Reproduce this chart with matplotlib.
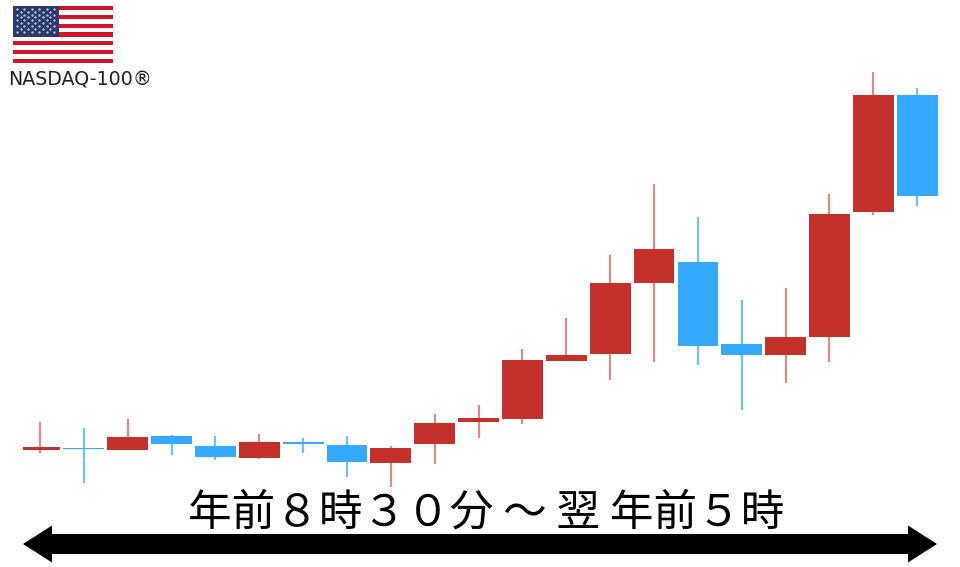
import matplotlib
matplotlib.use("Agg")
import matplotlib.pyplot as plt
from matplotlib.patches import Rectangle, Polygon

FONT = ['Noto Sans CJK JP', 'DejaVu Sans']
TITLE = "年前８時３０分 ～ 翌 年前５時"
INDEX_NAME = "NASDAQ-100®"

# session number and OHLC-like values (chart units, no scale shown)
sessions = list(range(21))
body_top = [120, 119, 130, 131, 121, 125, 125, 122, 119, 144, 149, 207, 212, 284, 318, 305, 223, 230, 353, 472, 472]
body_bot = [117, 118, 117, 123, 110, 109, 123, 105, 104, 123, 145, 148, 206, 213, 284, 221, 212, 212, 230, 355, 371]
high =     [145, 139, 148, 132, 131, 133, 129, 131, 121, 153, 162, 218, 249, 312, 383, 350, 267, 279, 373, 495, 479]
low =      [114,  84, 117, 112, 107, 108, 114,  90,  80, 103, 129, 143, 206, 187, 205, 202, 157, 184, 205, 352, 361]
is_up =    [1, 0, 1, 0, 0, 1, 0, 0, 1, 1, 1, 1, 1, 1, 1, 0, 0, 1, 1, 1, 0]

RED = "#c4302b"
BLUE = "#35a9ff"
RED_WICK = "#dc8a88"
BLUE_WICK = "#6cc2ff"

fig = plt.figure(figsize=(9.6, 5.67), dpi=100, facecolor="white")
ax = fig.add_axes([0, 0, 1, 1])
# pixel-aligned frame: x = session index mapped onto 40..917 px, y = value above bottom edge
x0, dx = 40.0, 43.86
ax.set_xlim(-x0 / dx, (960 - x0) / dx)
ax.set_ylim(0, 567)
ax.axis("off")

w = 0.93
for s, t, b, h, l, up in zip(sessions, body_top, body_bot, high, low, is_up):
    ax.vlines(s, l, h, color=RED_WICK if up else BLUE_WICK, lw=1.6, zorder=2)
    trim = 0.07 if s == 0 else 0  # the first body is slightly narrower on its left side
    ax.add_patch(Rectangle((s - w / 2 + trim, b), w - trim, t - b, facecolor=RED if up else BLUE,
                           edgecolor="none", zorder=3))

# overlay helper in pixel coordinates (y down)
ov = fig.add_axes([0, 0, 1, 1], facecolor="none")
ov.set_xlim(0, 960)
ov.set_ylim(567, 0)
ov.axis("off")

# time-span arrow
ov.add_patch(Polygon([(23, 544), (52, 525.5), (52, 534), (908, 534), (908, 525.5), (937, 544),
                      (908, 562.5), (908, 554), (52, 554), (52, 562.5)], closed=True,
                     facecolor="black", edgecolor="none"))
ov.text(486.5, 514, TITLE, family=FONT, fontsize=31.4, ha="center", va="center", color="black")

# flag
fx, fy, fw, fh = 13, 6, 100, 57
ov.add_patch(Rectangle((fx, fy), fw, fh, facecolor="white", edgecolor="none"))
for i in range(0, 13, 2):
    ov.add_patch(Rectangle((fx, fy + i * fh / 13), fw, fh / 13, facecolor="#d0142c", edgecolor="none"))
ov.add_patch(Rectangle((fx, fy), 46, 7 * fh / 13, facecolor="#2c3a6b", edgecolor="none"))
sx, sy = [], []
for r in range(9):
    n = 6 if r % 2 == 0 else 5
    off = 0 if r % 2 == 0 else 3.6
    for c in range(n):
        sx.append(fx + 4 + off + c * 7.4)
        sy.append(fy + 2.8 + r * 2.85)
ov.scatter(sx, sy, s=3, color="#b9c0d6", linewidths=0, zorder=5)
ov.text(8, 80, INDEX_NAME, family=['DejaVu Sans'], fontsize=13.7, ha="left", va="center", color="#222222")

fig.savefig("out.png", dpi=100, facecolor="white")
